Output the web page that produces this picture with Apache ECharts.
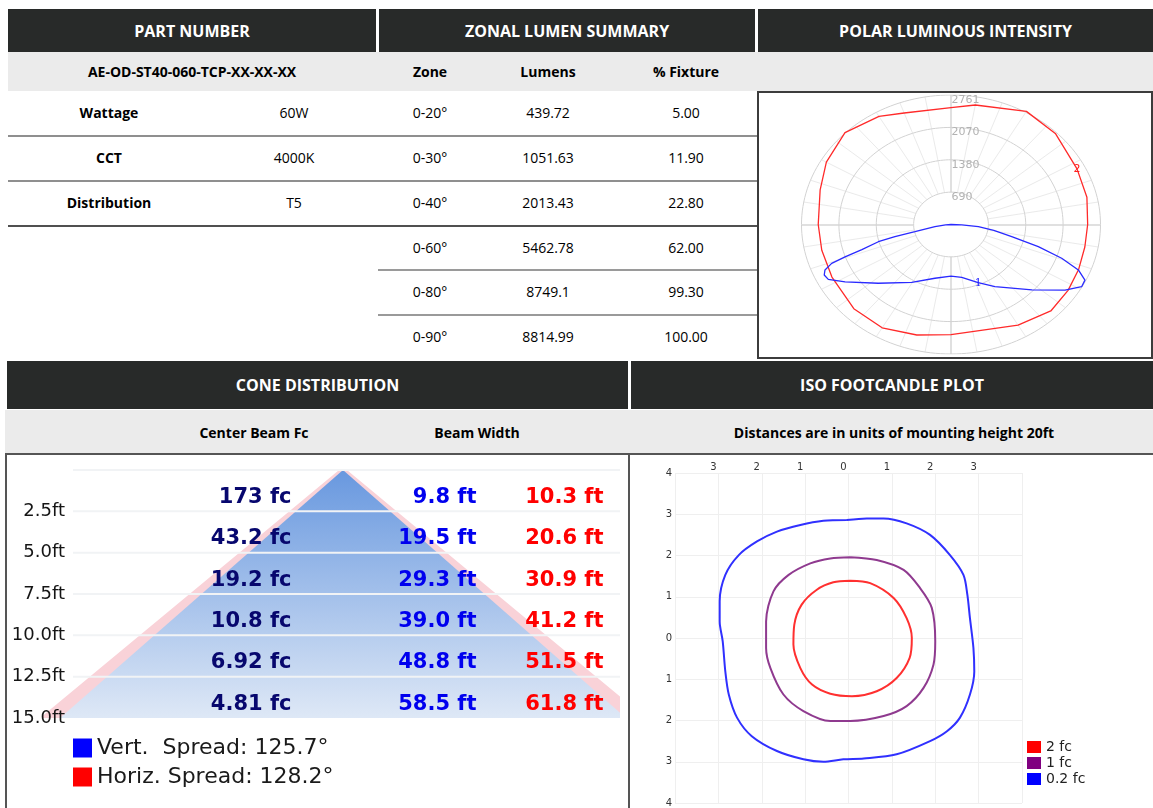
<!DOCTYPE html>
<html><head><meta charset="utf-8">
<script src="https://cdn.jsdelivr.net/npm/echarts/dist/echarts.min.js"></script>
<style>
html,body{margin:0;padding:0}
body{width:1153px;height:808px;position:relative;background:#fff;font-family:'Open Sans',sans-serif;overflow:hidden;color:#000}
.hdr{position:absolute;background:#282a29;color:#fff;font-weight:700;font-size:16px;display:flex;align-items:center;justify-content:center;white-space:nowrap}
.sub{position:absolute;background:#ebebeb}
.t{position:absolute;font-size:14px;transform:translate(-50%,-50%);white-space:nowrap;line-height:1.3}
.b{font-weight:700}
.hl{position:absolute;height:2px;background:#8f8f8f}
#polar{position:absolute;left:757px;top:91px;width:396px;height:268px;border:2px solid #3c3c3c;box-sizing:border-box;background:#fff}
#cone{position:absolute;left:8px;top:455px;width:620px;height:353px}
#iso{position:absolute;left:631px;top:455px;width:522px;height:353px}
</style></head>
<body>
<div class="hdr" style="left:8px;top:9px;width:368px;height:43px">PART NUMBER</div>
<div class="hdr" style="left:379px;top:9px;width:376px;height:43px">ZONAL LUMEN SUMMARY</div>
<div class="hdr" style="left:758px;top:9px;width:395px;height:43px">POLAR LUMINOUS INTENSITY</div>
<div class="sub" style="left:8px;top:52px;width:1145px;height:39px"></div>
<div class="hl" style="left:8px;top:135px;width:749px"></div>
<div class="hl" style="left:8px;top:180px;width:749px"></div>
<div class="hl" style="left:8px;top:225px;width:749px;background:#505050"></div>
<div class="hl" style="left:378px;top:269px;width:379px;background:#9a9a9a"></div>
<div class="hl" style="left:378px;top:314px;width:379px;background:#9a9a9a"></div>

<div class="hdr" style="left:7px;top:361px;width:621px;height:48px">CONE DISTRIBUTION</div>
<div class="hdr" style="left:631px;top:361px;width:522px;height:48px">ISO FOOTCANDLE PLOT</div>
<div class="sub" style="left:5px;top:410px;width:1148px;height:43px"></div>
<div style="position:absolute;left:5px;top:453px;width:1148px;height:2px;background:#555"></div>
<div style="position:absolute;left:5px;top:453px;width:2px;height:355px;background:#555"></div>
<div style="position:absolute;left:628px;top:453px;width:2px;height:355px;background:#555"></div>

<div id="polar"></div>
<div id="cone"></div>
<div id="iso"></div>
<script>
// ---------------- DATA ----------------
const partNumber = 'AE-OD-ST40-060-TCP-XX-XX-XX';
const specLabels = ['Wattage', 'CCT', 'Distribution'];
const specValues = ['60W', '4000K', 'T5'];
const zoneHeaders = ['Zone', 'Lumens', '% Fixture'];
const zones = ['0-20°', '0-30°', '0-40°', '0-60°', '0-80°', '0-90°'];
const zoneLumens = ['439.72', '1051.63', '2013.43', '5462.78', '8749.1', '8814.99'];
const zoneFixture = ['5.00', '11.90', '22.80', '62.00', '99.30', '100.00'];

// polar luminous intensity (angle from nadir, candela)
const polarRings = [690, 1380, 2070, 2761];
const hAngles = [-180,-160,-150,-135,-120,-107,-90,-77,-63,-45,-30,-15,0,13,30,45,57,68,79,90,103,117,135,150,170,180];
const hCandela = [2490,2530,2660,2769,2658,2527,2452,2449,2468,2538,2543,2439,2350,2320,2477,2607,2578,2544,2518,2524,2576,2612,2733,2785,2587,2490];
const vAngles = [-90,-86,-81,-77,-76,-74.7,-72,-70.6,-69.4,-67.4,-65.3,-62.7,-58,-47,-30.5,-14.5,0,10,22,31.5,47,56.4,61.2,64.4,67.6,70.6,73.7,77,81,85,88,90];
const vCandela = [0,100,300,683,1068,1391,1731,2075,2354,2521,2577,2550,2306,1836,1430,1184,1099,1143,1339,1554,2043,2528,2753,2743,2544,2167,1680,1151,800,508,200,0];
const hLabel = '2', hLabelAngle = 117;
const vLabel = '1', vLabelAngle = 22;

// cone distribution
const coneColumns = ['Center Beam Fc', 'Beam Width'];
const coneDistances = [2.5, 5.0, 7.5, 10.0, 12.5, 15.0];
const centerBeamFc = ['173', '43.2', '19.2', '10.8', '6.92', '4.81'];
const beamWidthV = [9.8, 19.5, 29.3, 39.0, 48.8, 58.5];
const beamWidthH = [10.3, 20.6, 30.9, 41.2, 51.5, 61.8];
const vertSpread = 125.7, horizSpread = 128.2;

// iso footcandle plot (units of mounting height)
const isoNote = 'Distances are in units of mounting height 20ft';
const isoTicks = [-4,-3,-2,-1,0,1,2,3,4];
const isoLevels = ['2 fc', '1 fc', '0.2 fc'];
const iso2fc = [[0.04,1.39],[0.50,1.33],[1.04,0.97],[1.34,0.48],[1.46,0],[1.41,-0.48],[1.11,-0.97],[0.65,-1.29],[0.08,-1.41],[-0.42,-1.35],[-0.84,-1.13],[-1.11,-0.73],[-1.27,-0.16],[-1.25,0.32],[-1.08,0.81],[-0.73,1.17],[-0.35,1.35],[0.04,1.39]];
const iso1fc = [[0.04,1.96],[0.65,1.89],[1.27,1.65],[1.65,1.21],[1.92,0.73],[2.0,-0.08],[1.96,-0.64],[1.73,-1.21],[1.34,-1.65],[0.81,-1.89],[0.04,-2.01],[-0.42,-2.01],[-1.04,-1.77],[-1.50,-1.37],[-1.80,-0.73],[-1.90,-0.24],[-1.90,0.40],[-1.73,1.13],[-1.38,1.53],[-0.88,1.81],[-0.42,1.93],[0.04,1.96]];
const iso02fc = [[-0.04,2.86],[0.42,2.90],[0.81,2.90],[1.34,2.78],[1.88,2.50],[2.34,2.01],[2.65,1.53],[2.74,1.05],[2.80,0.48],[2.88,-0.24],[2.90,-0.81],[2.80,-1.37],[2.57,-1.93],[2.27,-2.26],[1.88,-2.50],[1.11,-2.82],[0.35,-2.92],[-0.12,-2.94],[-0.58,-3.00],[-1.04,-2.94],[-1.65,-2.74],[-2.23,-2.38],[-2.57,-1.93],[-2.76,-1.37],[-2.84,-0.81],[-2.90,-0.08],[-2.97,0.40],[-2.97,0.89],[-2.84,1.53],[-2.53,2.01],[-2.11,2.34],[-1.65,2.58],[-1.11,2.74],[-0.58,2.84],[-0.04,2.86]];

// ---------------- TABLES ----------------
function addText(txt, x, y, cls, size) {
  const d = document.createElement('div');
  d.className = 't ' + (cls || '');
  d.style.left = x + 'px'; d.style.top = y + 'px';
  if (size) d.style.fontSize = size + 'px';
  d.textContent = txt;
  document.body.appendChild(d);
}
const rowY = [113, 158, 203, 248, 292, 337];
addText(partNumber, 192, 72, 'b');
const zoneX = [430, 548, 686];
zoneHeaders.forEach((h, i) => addText(h, zoneX[i], 72, 'b'));
specLabels.forEach((l, i) => { addText(l, 109, rowY[i], 'b'); addText(specValues[i], 294, rowY[i]); });
zones.forEach((z, i) => {
  addText(z, zoneX[0], rowY[i]);
  addText(zoneLumens[i], zoneX[1], rowY[i]);
  addText(zoneFixture[i], zoneX[2], rowY[i]);
});
addText(coneColumns[0], 254, 433, 'b');
addText(coneColumns[1], 477, 433, 'b');
addText(isoNote, 894, 433, 'b');

// ---------------- POLAR ----------------
const RMAX = polarRings[polarRings.length - 1];
function toXY(ang, cd) { const a = ang * Math.PI / 180; return [cd * Math.sin(a), -cd * Math.cos(a)]; }
const ringSeries = polarRings.map(R => {
  const pts = [];
  for (let t = 0; t <= 360; t += 2) pts.push(toXY(t, R));
  return { type: 'line', data: pts, symbol: 'none', silent: true, z: 1,
    lineStyle: { color: '#d2d2d2', width: 1 } };
});
const spokeData = [];
for (let a = 0; a < 360; a += 10) {
  const main = a % 90 === 0;
  spokeData.push({ coords: [toXY(a, polarRings[0]), toXY(a, RMAX)],
    lineStyle: { color: main ? '#c2c2c2' : '#d6d6d6', width: main ? 2 : 1 } });
}
const hidden = { color: 'rgba(0,0,0,0)', opacity: 1 };
const polarChart = echarts.init(document.getElementById('polar'));
polarChart.setOption({
  animation: false,
  grid: { left: 42.5, top: 2, width: 299, height: 259 },
  xAxis: { type: 'value', min: -RMAX, max: RMAX, show: false },
  yAxis: { type: 'value', min: -RMAX, max: RMAX, show: false },
  series: [
    ...ringSeries,
    { type: 'lines', coordinateSystem: 'cartesian2d', silent: true, z: 1, data: spokeData },
    { type: 'scatter', data: polarRings.map(r => [0, r]), symbolSize: 1, silent: true, z: 3,
      itemStyle: hidden,
      label: { show: true, position: 'right', distance: 0, offset: [0, 5],
        formatter: p => String(p.value[1]), color: '#b2b2b2', fontSize: 11, fontFamily: 'DejaVu Sans' } },
    { type: 'line', name: 'H', data: hAngles.map((a, i) => toXY(a, hCandela[i])), symbol: 'none', z: 4,
      lineStyle: { color: '#ff2a2a', width: 1.3 } },
    { type: 'line', name: 'V', data: vAngles.map((a, i) => toXY(a, vCandela[i])), symbol: 'none', z: 4,
      lineStyle: { color: '#2a2aff', width: 1.3 } },
    { type: 'scatter', symbolSize: 1, itemStyle: hidden, z: 5, silent: true,
      data: [toXY(hLabelAngle, hCandela[hAngles.indexOf(hLabelAngle)])],
      label: { show: true, position: 'inside', formatter: hLabel, color: '#ff2020', fontSize: 11, fontFamily: 'DejaVu Sans' } },
    { type: 'scatter', symbolSize: 1, itemStyle: hidden, z: 5, silent: true,
      data: [toXY(vLabelAngle, vCandela[vAngles.indexOf(vLabelAngle)])],
      label: { show: true, position: 'inside', formatter: vLabel, color: '#2020ff', fontSize: 11, fontFamily: 'DejaVu Serif' } }
  ]
});

// ---------------- CONE ----------------
const pxPerFt = 9.675, apexPx = 335, coneGridW = 612;
const lastI = coneDistances.length - 1;
const vName = 'Vert.  Spread: ' + vertSpread + '°';
const hName = 'Horiz. Spread: ' + horizSpread + '°';
function triangle(fill, stroke) {
  return (params, api) => {
    const d = api.value(0), half = api.value(1) / 2;
    return { type: 'polygon', shape: { points: [api.coord([0, 0]), api.coord([-half, d]), api.coord([half, d])] },
      style: stroke ? { fill: fill, stroke: stroke, lineWidth: 5, lineJoin: 'bevel' } : { fill: fill } };
  };
}
const coneChart = echarts.init(document.getElementById('cone'));
const labelCols = [
  { x: -5.27, text: i => centerBeamFc[i] + ' fc', color: '#07076e' },
  { x: 13.85, text: i => beamWidthV[i].toFixed(1) + ' ft', color: '#0000ee' },
  { x: 26.98, text: i => beamWidthH[i].toFixed(1) + ' ft', color: '#ff0000' }
];
coneChart.setOption({
  animation: false,
  grid: { left: 0, top: 15, width: coneGridW, height: 248 },
  xAxis: { type: 'value', min: -apexPx / pxPerFt, max: (coneGridW - apexPx) / pxPerFt, show: false },
  yAxis: { type: 'value', inverse: true, min: 0, max: 15, interval: 2.5, offset: -59, z: 10,
    axisLine: { show: false }, axisTick: { show: false }, splitLine: { show: false },
    axisLabel: { margin: 2, formatter: v => v === 0 ? '' : v.toFixed(1) + 'ft',
      fontFamily: 'DejaVu Sans', fontSize: 18, color: '#151515' } },
  legend: {
    orient: 'vertical', left: 65, top: 282, padding: 0, itemWidth: 19, itemHeight: 19, itemGap: 7, selectedMode: false,
    textStyle: { fontFamily: 'DejaVu Sans', fontSize: 22, color: '#1a1a1a' },
    data: [ { name: vName, icon: 'rect', itemStyle: { color: '#0000ff' } },
            { name: hName, icon: 'rect', itemStyle: { color: '#ff0000' } } ]
  },
  series: [
    { type: 'custom', name: hName, clip: true, z: 1, silent: true, itemStyle: { color: '#ff0000' },
      renderItem: triangle('#f9d2d8', '#f9d2d8'), data: [[coneDistances[lastI], beamWidthH[lastI]]] },
    { type: 'custom', name: vName, clip: true, z: 2, silent: true, itemStyle: { color: '#0000ff' },
      renderItem: triangle(new echarts.graphic.LinearGradient(0, 0, 0, 1, [
        { offset: 0, color: '#6898df' }, { offset: 1, color: '#dee8f6' }])),
      data: [[coneDistances[lastI], beamWidthV[lastI]]] },
    { type: 'custom', z: 3, silent: true, clip: false,
      data: [0].concat(coneDistances.slice(0, lastI)),
      renderItem: (params, api) => {
        const y = api.coord([0, api.value(0)])[1];
        const cs = params.coordSys;
        return { type: 'line', shape: { x1: cs.x + 65, y1: y, x2: cs.x + cs.width, y2: y },
          style: { stroke: '#f1f3f5', lineWidth: 2 } };
      } },
    ...labelCols.map(col => ({
      type: 'scatter', z: 5, silent: true, symbolSize: 1, itemStyle: hidden,
      data: coneDistances.map(d => [col.x, d - 1.25]),
      label: { show: true, position: 'left', distance: 0, offset: [0, 7],
        formatter: p => col.text(p.dataIndex), color: col.color,
        fontFamily: 'DejaVu Sans', fontWeight: 'bold', fontSize: 21 }
    }))
  ]
});

// ---------------- ISO ----------------
const isoChart = echarts.init(document.getElementById('iso'));
const isoColors = ['#ff3030', '#8f3a8f', '#3030ff'];
const isoLegendColors = ['#ff0000', '#800080', '#0000ff'];
const isoData = [iso2fc, iso1fc, iso02fc];
isoChart.setOption({
  animation: false,
  grid: { left: 44, top: 18, width: 347, height: 331 },
  xAxis: { type: 'value', position: 'top', min: isoTicks[0], max: isoTicks[isoTicks.length - 1], interval: 1,
    axisLine: { show: false }, axisTick: { show: false },
    splitLine: { lineStyle: { color: '#efefef', width: 1 } },
    axisLabel: { margin: 1, padding: [0, 10, 0, 0], fontFamily: 'DejaVu Sans', fontSize: 10, color: '#333',
      formatter: v => Math.abs(v) === 4 ? '' : String(Math.abs(v)) } },
  yAxis: { type: 'value', min: isoTicks[0], max: isoTicks[isoTicks.length - 1], interval: 1,
    axisLine: { show: false }, axisTick: { show: false },
    splitLine: { lineStyle: { color: '#efefef', width: 1 } },
    axisLabel: { margin: 3, fontFamily: 'DejaVu Sans', fontSize: 10, color: '#333',
      formatter: v => String(Math.abs(v)) } },
  legend: { orient: 'vertical', left: 396, top: 285, itemWidth: 14, itemHeight: 12, itemGap: 2,
    selectedMode: false, backgroundColor: '#fff', padding: [0, 4, 0, 0],
    textStyle: { fontFamily: 'DejaVu Sans', fontSize: 14, color: '#222' },
    data: isoLevels.map((n, i) => ({ name: n, icon: 'rect', itemStyle: { color: isoLegendColors[i] } })) },
  series: isoLevels.map((n, i) => ({
    type: 'line', name: n, data: isoData[i], symbol: 'none', smooth: 0.3,
    lineStyle: { color: isoColors[i], width: 2 }, itemStyle: { color: isoLegendColors[i] }
  }))
});
</script>
</body></html>
